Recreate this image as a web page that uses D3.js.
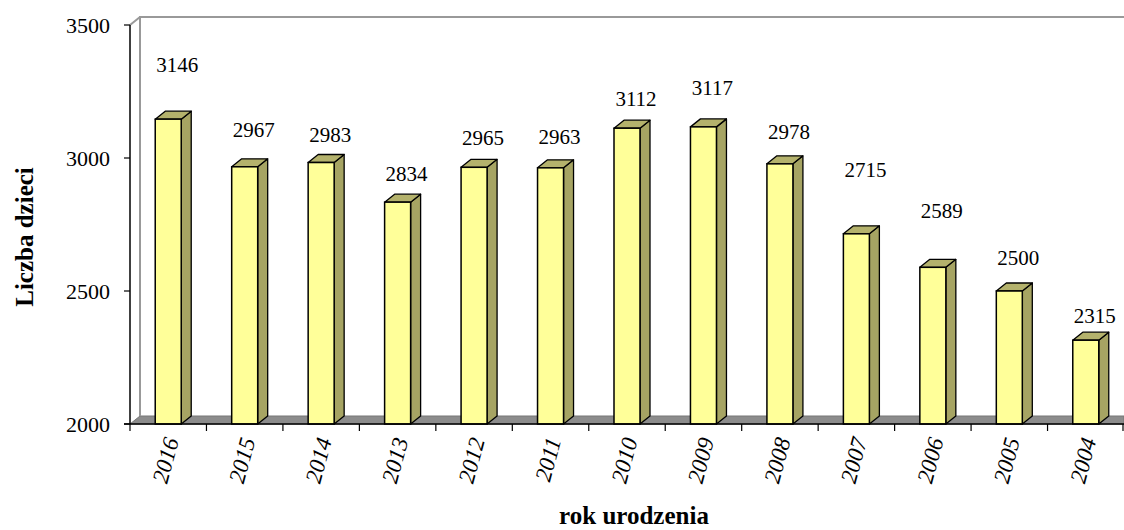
<!DOCTYPE html>
<html>
<head>
<meta charset="utf-8">
<script src="https://cdn.jsdelivr.net/npm/d3@7"></script>
<style>
  body { margin: 0; background: #fff; }
  svg text { font-family: "Liberation Serif", "Times New Roman", "DejaVu Serif", serif; fill: #000; }
</style>
</head>
<body>
<div id="chart"></div>
<script>
// data
var years = ["2016", "2015", "2014", "2013", "2012", "2011", "2010", "2009", "2008", "2007", "2006", "2005", "2004"];
var children = [3146, 2967, 2983, 2834, 2965, 2963, 3112, 3117, 2978, 2715, 2589, 2500, 2315];
var yTicks = [2000, 2500, 3000, 3500];
var yTitle = "Liczba dzieci";
var xTitle = "rok urodzenia";

var width = 1124,
    height = 530;
var margin = {top: 25, left: 130, bottom: 106, right: 0};
var depth = {dx: 10, dy: -8};   // 3d offset of back wall / bar depth
var serif = "'Liberation Serif', 'Times New Roman', 'DejaVu Serif', serif";

// how far each value label sits above its bar (Excel places them unevenly)
var labelLift = [55, 37, 28, 29, 30, 31, 30, 39, 32, 64, 57, 33, 25];

var svg = d3.select("#chart").append("svg")
    .attr("width", width)
    .attr("height", height)
    .attr("font-family", serif);

var x = d3.scaleBand()
    .domain(years)
    .range([margin.left, width - margin.right])
    .paddingInner(0.66)
    .paddingOuter(0.33);

var y = d3.scaleLinear()
    .domain([2000, 3500])
    .range([height - margin.bottom, margin.top]);

var x0 = margin.left, x1 = width - margin.right;
var yb = y(2000), yt = y(3500);
var step = x.step(), bw = x.bandwidth();

// walls
var wall = svg.append("g").attr("class", "walls");
// floor
wall.append("path")
    .attr("d", "M" + x0 + "," + yb + "L" + (x0 + depth.dx) + "," + (yb + depth.dy) +
               "L" + x1 + "," + (yb + depth.dy) + "L" + x1 + "," + yb + "Z")
    .attr("fill", "#8c8c8c")
    .attr("stroke", "#777")
    .attr("stroke-width", 1);
// back wall outline
wall.append("path")
    .attr("d", "M" + (x0 + depth.dx) + "," + (yb + depth.dy) + "L" + (x0 + depth.dx) + "," + (yt + depth.dy) +
               "L" + x1 + "," + (yt + depth.dy))
    .attr("fill", "none")
    .attr("stroke", "#999")
    .attr("stroke-width", 2);
wall.append("line")
    .attr("x1", x0).attr("y1", yt)
    .attr("x2", x0 + depth.dx).attr("y2", yt + depth.dy)
    .attr("stroke", "#999")
    .attr("stroke-width", 2);

// bars
var bars = svg.append("g").attr("class", "bars")
  .selectAll("g")
  .data(years)
  .enter().append("g");

bars.append("path") // side
    .attr("d", function(d, i) {
      var xr = x(d) + bw, top = y(children[i]);
      return "M" + xr + "," + yb + "L" + (xr + depth.dx) + "," + (yb + depth.dy) +
             "L" + (xr + depth.dx) + "," + (top + depth.dy) + "L" + xr + "," + top + "Z";
    })
    .attr("fill", "#a6a463")
    .attr("stroke", "#000")
    .attr("stroke-width", 1.3)
    .attr("stroke-linejoin", "round");

bars.append("path") // top
    .attr("d", function(d, i) {
      var xl = x(d), top = y(children[i]);
      return "M" + xl + "," + top + "L" + (xl + depth.dx) + "," + (top + depth.dy) +
             "L" + (xl + bw + depth.dx) + "," + (top + depth.dy) + "L" + (xl + bw) + "," + top + "Z";
    })
    .attr("fill", "#b4b26c")
    .attr("stroke", "#000")
    .attr("stroke-width", 1.3)
    .attr("stroke-linejoin", "round");

bars.append("rect") // front
    .attr("x", function(d) { return x(d); })
    .attr("y", function(d, i) { return y(children[i]); })
    .attr("width", bw)
    .attr("height", function(d, i) { return yb - y(children[i]); })
    .attr("fill", "#ffff99")
    .attr("stroke", "#000")
    .attr("stroke-width", 1.5);

// value labels
svg.append("g").attr("class", "labels")
  .selectAll("text")
  .data(years)
  .enter().append("text")
    .attr("x", function(d) { return x(d) + bw / 2 + 9; })
    .attr("y", function(d, i) { return y(children[i]) - labelLift[i]; })
    .attr("dy", "0.35em")
    .attr("text-anchor", "middle")
    .style("font-size", "21px")
    .text(function(d, i) { return children[i]; });

// y axis
var yAxis = svg.append("g").attr("class", "y-axis");
yAxis.append("line")
    .attr("x1", x0).attr("x2", x0)
    .attr("y1", yt).attr("y2", yb)
    .attr("stroke", "#000").attr("stroke-width", 1.5);
yAxis.selectAll(".tick")
  .data(yTicks)
  .enter().append("line")
    .attr("x1", x0 - 6).attr("x2", x0)
    .attr("y1", function(d) { return y(d); })
    .attr("y2", function(d) { return y(d); })
    .attr("stroke", "#000").attr("stroke-width", 1.2);
yAxis.selectAll("text")
  .data(yTicks)
  .enter().append("text")
    .attr("x", x0 - 20)
    .attr("y", function(d) { return y(d); })
    .attr("dy", "0.35em")
    .attr("text-anchor", "end")
    .style("font-size", "22px")
    .text(function(d) { return d; });

// x axis
var xAxis = svg.append("g").attr("class", "x-axis");
xAxis.append("line")
    .attr("x1", x0 - 6).attr("x2", x1)
    .attr("y1", yb).attr("y2", yb)
    .attr("stroke", "#000").attr("stroke-width", 1.5);
var tickPos = years.map(function(d) { return x(d) + bw / 2 - step / 2; });
tickPos.push(x(years[years.length - 1]) + bw / 2 + step / 2 - 1);
xAxis.selectAll(".tick")
  .data(tickPos)
  .enter().append("line")
    .attr("x1", function(d) { return d; })
    .attr("x2", function(d) { return d; })
    .attr("y1", yb).attr("y2", yb + 7)
    .attr("stroke", "#000").attr("stroke-width", 1.2);
xAxis.selectAll("text")
  .data(years)
  .enter().append("text")
    .attr("transform", function(d) {
      return "translate(" + (x(d) + bw / 2 + 3) + "," + (yb + 14) + ") rotate(-75)";
    })
    .attr("dy", "0.35em")
    .attr("text-anchor", "end")
    .style("font-size", "23px")
    .style("font-style", "italic")
    .text(function(d) { return d; });

// axis titles
svg.append("text")
    .attr("transform", "translate(33,237) rotate(-90)")
    .attr("text-anchor", "middle")
    .style("font-size", "25px")
    .style("font-weight", "bold")
    .text(yTitle);

svg.append("text")
    .attr("x", 634)
    .attr("y", 524)
    .attr("text-anchor", "middle")
    .style("font-size", "25px")
    .style("font-weight", "bold")
    .text(xTitle);
</script>
</body>
</html>
